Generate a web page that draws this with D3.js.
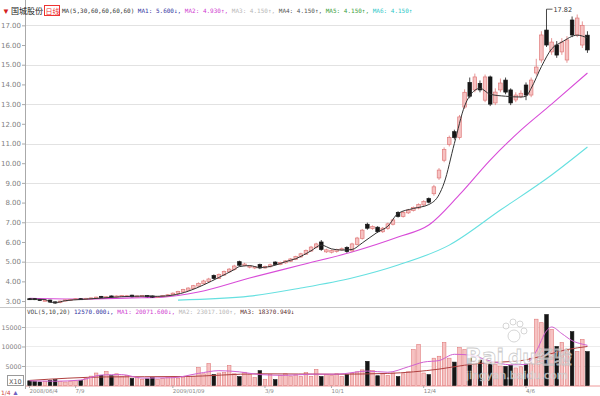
<!DOCTYPE html>
<html><head><meta charset="utf-8">
<script src="https://cdn.jsdelivr.net/npm/d3@7"></script>
<style>body{margin:0;background:#fff}svg{display:block}</style>
</head><body><svg id="c" width="600" height="396"></svg>
<script>
const openP=[3.12,3.12,3.08,3.02,3.05,2.96,2.92,3.00,3.06,3.08,
3.12,3.10,3.14,3.16,3.24,3.18,3.26,3.20,3.26,3.24,
3.30,3.22,3.26,3.28,3.26,3.20,3.24,3.26,3.32,3.38,
3.46,3.55,3.64,3.76,3.88,4.00,4.30,4.15,4.32,4.48,
4.60,5.00,4.80,4.72,4.68,4.85,4.68,4.74,4.98,4.86,
4.94,5.02,5.12,5.24,5.38,5.54,5.72,6.00,5.50,5.48,
5.52,5.60,5.72,5.55,5.88,6.18,6.90,6.68,6.75,6.52,
6.68,6.90,7.50,7.30,7.48,7.60,7.72,7.88,8.20,
8.45,9.25,10.15,10.95,11.60,11.30,12.85,14.10,13.72,14.05,13.20,14.38,13.06,13.72,14.22,13.72,13.21,13.40,13.97,13.46,14.58,15.24,16.76,15.65,16.00,15.65,15.24,17.27,16.51,16.00,16.50];
const closeP=[3.10,3.08,3.05,3.04,2.95,2.90,3.00,3.06,3.08,3.12,
3.10,3.14,3.16,3.20,3.18,3.22,3.20,3.26,3.28,3.27,
3.22,3.26,3.28,3.22,3.20,3.24,3.28,3.32,3.40,3.48,
3.58,3.66,3.78,3.90,4.02,4.12,4.15,4.35,4.50,4.62,
4.78,4.82,4.88,4.78,4.74,4.68,4.76,4.84,4.86,4.96,
5.04,5.14,5.26,5.40,5.56,5.74,5.90,5.62,5.60,5.56,
5.62,5.66,5.52,5.90,6.20,6.60,6.70,6.78,6.52,6.70,
6.92,7.12,7.30,7.50,7.62,7.75,7.90,8.05,8.02,
8.80,9.65,10.70,11.30,11.30,12.35,13.60,13.40,14.38,13.72,14.38,13.00,13.61,14.07,13.61,13.06,13.46,13.55,13.46,14.22,14.88,16.51,16.00,16.15,15.49,16.15,16.26,16.51,17.37,17.00,15.75];
const highP=[3.15,3.14,3.10,3.07,3.07,2.98,3.02,3.08,3.10,3.14,
3.14,3.16,3.18,3.22,3.26,3.24,3.28,3.28,3.30,3.29,
3.32,3.28,3.30,3.30,3.28,3.26,3.30,3.35,3.44,3.52,
3.62,3.70,3.82,3.95,4.08,4.18,4.35,4.40,4.55,4.68,
4.84,5.05,4.94,4.82,4.78,4.90,4.80,4.90,5.02,5.00,
5.08,5.18,5.30,5.45,5.62,5.80,5.96,6.10,5.66,5.62,
5.66,5.72,5.78,5.96,6.26,6.66,6.98,6.84,6.80,6.76,
6.98,7.18,7.56,7.56,7.68,7.80,7.96,8.12,8.26,
8.90,9.75,10.80,11.40,11.70,12.45,13.75,14.35,14.55,14.20,14.50,14.45,13.80,14.30,14.35,13.80,13.60,13.70,14.10,14.35,15.30,16.70,17.82,16.35,16.20,16.35,16.45,17.45,17.55,17.20,16.70];
const lowP=[3.06,3.05,3.02,2.99,2.92,2.86,2.89,2.98,3.03,3.05,
3.07,3.08,3.11,3.13,3.15,3.15,3.17,3.18,3.23,3.21,
3.19,3.20,3.23,3.19,3.17,3.18,3.21,3.24,3.29,3.35,
3.43,3.52,3.60,3.72,3.84,3.96,4.10,4.12,4.28,4.44,
4.55,4.76,4.76,4.66,4.62,4.62,4.64,4.70,4.82,4.82,
4.90,4.98,5.08,5.20,5.34,5.50,5.68,5.55,5.44,5.42,
5.46,5.55,5.45,5.50,5.82,6.12,6.62,6.62,6.46,6.46,
6.62,6.84,7.24,7.24,7.42,7.55,7.66,7.82,7.96,
8.35,9.15,10.05,10.85,11.20,11.20,12.75,13.30,13.60,13.60,13.10,12.90,12.95,13.60,13.50,12.95,13.10,13.30,13.20,13.35,14.45,15.10,15.90,15.50,15.35,15.50,15.10,16.40,16.40,15.85,15.60];
const volume=[1200,1000,900,1100,1300,1500,1000,900,1100,1200,
1300,1800,2400,3200,2600,3600,2500,3000,2400,2600,
1800,2000,1600,1700,2000,1500,1800,2000,2200,1900,
2100,2300,2300,4600,3000,5600,2800,3200,3300,5100,
3000,2300,3400,2800,2000,3800,1600,2800,1500,2600,
3000,2400,2700,2300,3300,2300,4100,2300,2800,2600,
3000,2300,2800,3100,3500,4000,6200,3800,2500,3000,
2600,3200,2300,3000,3500,9200,10500,3200,2800,7000,
7500,11000,7000,6000,9700,9200,7000,6200,6500,6600,
5500,5500,5000,4900,5200,4500,4800,5500,7000,17000,
16100,18200,14400,10000,11000,9000,13800,8700,11800,8700];
// moving-average lines: [candle index, value]
const ma1Line=[[0,3.10],[3,3.08],[4,2.95],[5,2.92],[7,3.02],[10,3.08],[14,3.15],[18,3.22],[22,3.25],[25,3.24],[28,3.30],[31,3.50],[34,3.82],[37,4.20],[40,4.60],[41,4.75],[43,4.80],[45,4.70],[48,4.82],[50,5.00],[52,5.15],[55,5.55],[57,5.84],[59,5.65],[61,5.59],[63,5.62],[65,5.95],[68,6.50],[70,6.80],[72,7.45],[75,7.70],[78,7.90],[80,8.40],[81,9.00],[83,11.00],[85,12.90],[87,13.70],[88,13.80],[90,13.50],[93,13.40],[96,13.36],[97,13.40],[98,13.80],[100,14.90],[102,15.80],[104,16.15],[107,16.50],[109,16.36]];
const ma2Line=[[0,3.14],[10,3.10],[20,3.16],[26,3.20],[33,3.46],[43,4.17],[53,4.83],[63,5.49],[72,6.25],[78,6.86],[84,8.40],[90,10.16],[96,11.68],[102,13.00],[109,14.58]];
const ma3Line=[[29,3.05],[43,3.25],[53,3.66],[63,4.17],[72,4.83],[82,5.84],[92,7.62],[102,9.40],[109,10.82]];
const vma1Line=[[0,1200],[5,1100],[10,1400],[14,2700],[18,2800],[22,1900],[28,2000],[33,3100],[37,3800],[41,3500],[45,2800],[50,2600],[55,2900],[60,2900],[66,3700],[70,3400],[74,4800],[77,6000],[80,6400],[83,8000],[86,7800],[90,6300],[94,5300],[97,5400],[99,8800],[101,14000],[102,15000],[104,13300],[106,11500],[108,10600],[109,10300]];
const vma2Line=[[0,1300],[15,2200],[30,2300],[45,3000],[60,2900],[70,3100],[75,3500],[80,4200],[85,5200],[90,5900],[95,6200],[100,7500],[105,9200],[109,10000]];
const priceTicks=[3,4,5,6,7,8,9,10,11,12,13,14,15,16,17];
const priceGrid=[5,7,9,11,13,15,17];
const volTicks=[5000,10000,15000];
const dateIdx=[0,9,28,46,59,77,97];
const dateLabels=["2008/06/4","7/9","2009/01/09","3/9","10/1","12/4","4/6"];
const highMarkIdx=101;

const svg=d3.select('#c');
const N=openP.length;
const x=d3.scaleBand().domain(d3.range(N)).range([27,590]).paddingInner(0.3).paddingOuter(0.15);
const cx=i=>x(i)+x.bandwidth()/2;
const y=d3.scaleLinear().domain([2.8,17.88]).range([305,8]);
const yv=d3.scaleLinear().domain([0,19870]).range([385.5,308]);
const UPF='#f6c2c2',UPS='#e07a7a',DN='#161616';

// grid
svg.append('g').selectAll('line').data(priceGrid).join('line')
 .attr('x1',25).attr('x2',600).attr('y1',d=>Math.round(y(d))+0.5).attr('y2',d=>Math.round(y(d))+0.5)
 .attr('stroke','#e2e2e2');
svg.append('g').selectAll('line').data(volTicks).join('line')
 .attr('x1',25).attr('x2',600).attr('y1',d=>Math.round(yv(d))+0.5).attr('y2',d=>Math.round(yv(d))+0.5)
 .attr('stroke','#ececec');

// separators
svg.append('line').attr('x1',0).attr('x2',600).attr('y1',307.5).attr('y2',307.5).attr('stroke','#c8c8c8');
svg.append('line').attr('x1',25).attr('x2',600).attr('y1',386).attr('y2',386).attr('stroke','#ee9a9a');
svg.append('line').attr('x1',25.5).attr('x2',25.5).attr('y1',0).attr('y2',389).attr('stroke','#aaa');

// y axes
const ya=svg.append('g').attr('transform','translate(25,0)')
 .call(d3.axisLeft(y).tickValues(priceTicks).tickSize(3).tickPadding(1).tickFormat(d3.format('.2f')));
ya.select('.domain').remove();
ya.selectAll('text').attr('font-size',7).attr('font-family','DejaVu Sans').attr('fill','#808080');
ya.selectAll('line').attr('stroke','#aaa');
const va=svg.append('g').attr('transform','translate(25,0)')
 .call(d3.axisLeft(yv).tickValues(volTicks).tickSize(3).tickPadding(0.5).tickFormat(d3.format('d')));
va.select('.domain').remove();
va.selectAll('text').attr('font-size',6.3).attr('font-family','DejaVu Sans').attr('fill','#808080');
va.selectAll('line').attr('stroke','#aaa');

// volume bars
const idx=d3.range(N);
svg.append('g').selectAll('rect').data(idx).join('rect')
 .attr('x',i=>x(i)).attr('width',x.bandwidth())
 .attr('y',i=>yv(volume[i])).attr('height',i=>yv(0)-yv(volume[i]))
 .attr('fill',i=>closeP[i]>=openP[i]?UPF:DN)
 .attr('stroke',i=>closeP[i]>=openP[i]?UPS:DN).attr('stroke-width',0.6);

const lineP=d3.line().x(d=>cx(d[0])).y(d=>y(d[1])).curve(d3.curveMonotoneX);
const lineV=d3.line().x(d=>cx(d[0])).y(d=>yv(d[1])).curve(d3.curveMonotoneX);
svg.append('path').attr('d',lineV(vma2Line)).attr('fill','none').attr('stroke','#b04040').attr('stroke-width',1);
svg.append('path').attr('d',lineV(vma1Line)).attr('fill','none').attr('stroke','#d060d0').attr('stroke-width',1);

// MA lines
svg.append('path').attr('d',lineP(ma3Line)).attr('fill','none').attr('stroke','#66e0e0').attr('stroke-width',1.1);
svg.append('path').attr('d',lineP(ma2Line)).attr('fill','none').attr('stroke','#d84cd8').attr('stroke-width',1.1);

// candles
const cg=svg.append('g');
cg.selectAll('line').data(idx).join('line')
 .attr('x1',i=>cx(i)).attr('x2',i=>cx(i)).attr('y1',i=>y(highP[i])).attr('y2',i=>y(lowP[i]))
 .attr('stroke',i=>closeP[i]>=openP[i]?UPS:DN).attr('stroke-width',0.8);
cg.selectAll('rect').data(idx).join('rect')
 .attr('x',i=>x(i)).attr('width',x.bandwidth())
 .attr('y',i=>y(Math.max(openP[i],closeP[i])))
 .attr('height',i=>Math.max(1,Math.abs(y(openP[i])-y(closeP[i]))))
 .attr('fill',i=>closeP[i]>=openP[i]?UPF:DN)
 .attr('stroke',i=>closeP[i]>=openP[i]?UPS:DN).attr('stroke-width',0.7);

svg.append('path').attr('d',lineP(ma1Line)).attr('fill','none').attr('stroke','#333').attr('stroke-width',1);

// high marker
const hx=cx(highMarkIdx), hy=y(highP[highMarkIdx]);
svg.append('path').attr('d',`M${hx},${hy}h6`).attr('stroke','#333').attr('stroke-width',0.8);
svg.append('text').attr('x',hx+7).attr('y',hy+2.5).attr('font-size',6.5).attr('font-family','DejaVu Sans')
 .attr('fill','#333').text(d3.format('.2f')(highP[highMarkIdx]));

// legends
svg.append('text').attr('x',2).attr('y',14).attr('font-size',8).attr('fill','#d42020').text('▼');
svg.append('text').attr('x',11).attr('y',14).attr('font-size',8).attr('font-family','Noto Sans CJK SC').attr('fill','#222').text('国城股份');
svg.append('rect').attr('x',44.5).attr('y',5.5).attr('width',15).attr('height',10).attr('fill','none').attr('stroke','#e33');
svg.append('text').attr('x',45.5).attr('y',13.5).attr('font-size',7).attr('font-family','Noto Sans CJK SC').attr('fill','#e33').text('日线');
const legParts=[['MA(5,30,60,60,60,60) ','#333'],['MA1: 5.600↓, ','#3333a0'],['MA2: 4.930↑, ','#d040d0'],['MA3: 4.150↑, ','#b8b8b8'],['MA4: 4.150↑, ','#555'],['MA5: 4.150↑, ','#40a040'],['MA6: 4.150↑','#30c8c8']];
const lt=svg.append('text').attr('x',62).attr('y',13).attr('font-size',6).attr('font-family','DejaVu Sans Mono').attr('xml:space','preserve');
lt.selectAll('tspan').data(legParts).join('tspan').attr('fill',d=>d[1]).text(d=>d[0]);
const vParts=[['VOL(5,10,20) ','#444'],['12570.000↓, ','#3333a0'],['MA1: 20071.600↓, ','#d040d0'],['MA2: 23017.100↑, ','#b8b8b8'],['MA3: 18370.949↓','#603030']];
const vt=svg.append('text').attr('x',27).attr('y',314).attr('font-size',6).attr('font-family','DejaVu Sans Mono').attr('xml:space','preserve');
vt.selectAll('tspan').data(vParts).join('tspan').attr('fill',d=>d[1]).text(d=>d[0]);

// X10 box
svg.append('rect').attr('x',7.5).attr('y',375.5).attr('width',16).attr('height',10).attr('fill','#fff').attr('stroke','#999');
svg.append('text').attr('x',9).attr('y',383.5).attr('font-size',6.5).attr('font-family','DejaVu Sans').attr('fill','#555').text('X10');

// date axis
const xa=svg.append('g').attr('transform','translate(0,386)')
 .call(d3.axisBottom(x).tickValues(dateIdx).tickSize(2).tickPadding(1).tickFormat((d,k)=>dateLabels[k]));
xa.select('.domain').remove();
xa.selectAll('line').attr('stroke','#aaa');
xa.selectAll('text').attr('font-size',5.5).attr('font-family','DejaVu Sans').attr('fill','#888').attr('text-anchor','start');
svg.append('text').attr('x',1).attr('y',395).attr('font-size',6).attr('font-family','DejaVu Sans').attr('fill','#c44').text('1/4');
svg.append('text').attr('x',12).attr('y',395).attr('font-size',7).attr('fill','#7060c0').text('▲');

// watermark
const wm=svg.append('g').attr('opacity',0.8);
[[506,326,3],[513,322,3],[520,324,3],[524,331,3],[514,336,6]].forEach(p=>wm.append('circle').attr('cx',p[0]).attr('cy',p[1]).attr('r',p[2]).attr('fill','#fff').attr('stroke','#c0c0c0').attr('stroke-width',0.8));
wm.append('text').attr('x',465).attr('y',364).attr('font-size',22).attr('font-weight','bold').attr('font-family','DejaVu Sans').attr('fill','#fff').attr('stroke','#c0c0c0').attr('stroke-width',0.8).text('Bai');
wm.append('text').attr('x',508).attr('y',364).attr('font-size',20).attr('font-weight','bold').attr('font-family','DejaVu Sans').attr('fill','#fff').attr('stroke','#c0c0c0').attr('stroke-width',0.8).text('du');
wm.append('text').attr('x',536).attr('y',364).attr('font-size',18).attr('font-family','Noto Sans CJK SC').attr('fill','#fff').attr('stroke','#c0c0c0').attr('stroke-width',0.8).text('经验');
wm.append('text').attr('x',466).attr('y',379).attr('font-size',11).attr('font-family','DejaVu Sans').attr('fill','#fff').attr('stroke','#c0c0c0').attr('stroke-width',0.5).text('jingyan.baidu.com');
</script></body></html>
